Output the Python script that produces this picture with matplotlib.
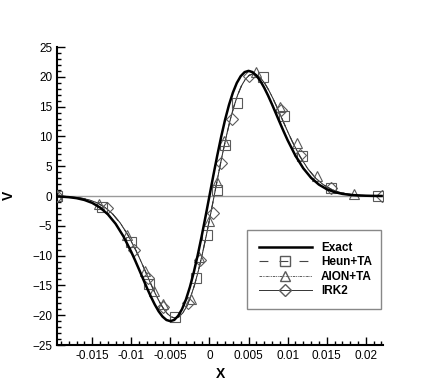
import matplotlib
matplotlib.use("Agg")
import matplotlib.pyplot as plt
from matplotlib.ticker import MultipleLocator, FuncFormatter
from matplotlib.lines import Line2D

plt.rcParams['font.family'] = ['Liberation Sans', 'DejaVu Sans']

# Exact solution
exact_x = [-0.0195, -0.019, -0.018, -0.017, -0.016, -0.015, -0.014, -0.013, -0.012, -0.011, -0.010,
           -0.0095, -0.009, -0.0085, -0.008, -0.0075, -0.007, -0.0065, -0.006, -0.0055, -0.005,
           -0.0045, -0.004, -0.0035, -0.003, -0.0025, -0.002, -0.0015, -0.001, -0.0005, 0.0,
           0.0005, 0.001, 0.0015, 0.002, 0.0025, 0.003, 0.0035, 0.004, 0.0045, 0.005,
           0.0055, 0.006, 0.0065, 0.007, 0.0075, 0.008, 0.0085, 0.009, 0.0095, 0.010,
           0.011, 0.012, 0.013, 0.014, 0.015, 0.016, 0.017, 0.018, 0.019, 0.020, 0.021, 0.022]
exact_v = [-0.07, -0.10, -0.19, -0.36, -0.66, -1.15, -1.92, -3.06, -4.66, -6.77, -9.37,
           -10.82, -12.33, -13.87, -15.40, -16.86, -18.19, -19.34, -20.23, -20.80, -21.00,
           -20.79, -20.11, -18.97, -17.35, -15.28, -12.79, -9.93, -6.79, -3.45, 0.0,
           3.45, 6.79, 9.93, 12.79, 15.28, 17.35, 18.97, 20.11, 20.79, 21.00,
           20.80, 20.23, 19.34, 18.19, 16.86, 15.40, 13.87, 12.33, 10.82, 9.37,
           6.77, 4.66, 3.06, 1.92, 1.15, 0.66, 0.36, 0.19, 0.10, 0.05, 0.02, 0.01]

# Numerical solution curve (shared by the three schemes)
num_x = [-0.0195, -0.0189, -0.0184, -0.0174, -0.0164, -0.0154, -0.0144, -0.0134, -0.0124, -0.0114, -0.0104, -0.0094,
         -0.0089, -0.0084, -0.0079, -0.0074, -0.0069, -0.0064, -0.0059, -0.0054, -0.0049, -0.0044,
         -0.0039, -0.0034, -0.0029, -0.0024, -0.0019, -0.0014, -0.0009, -0.0004, 0.0001, 0.0006,
         0.0011, 0.0016, 0.0021, 0.0026, 0.0031, 0.0036, 0.0041, 0.0046, 0.0051, 0.0056,
         0.0061, 0.0066, 0.0071, 0.0076, 0.0081, 0.0086, 0.0091, 0.0096, 0.0101, 0.0106,
         0.0116, 0.0126, 0.0136, 0.0146, 0.0156, 0.0166, 0.0176, 0.0186, 0.0196, 0.0206, 0.0216, 0.0226]
num_v = [-0.04, -0.07, -0.10, -0.19, -0.35, -0.64, -1.12, -1.87, -2.98, -4.54, -6.60, -9.14,
         -10.55, -12.02, -13.52, -15.02, -16.44, -17.74, -18.86, -19.72, -20.28, -20.48,
         -20.27, -19.61, -18.50, -16.92, -14.90, -12.47, -9.68, -6.62, -3.36, 0.0,
         3.36, 6.62, 9.68, 12.47, 14.90, 16.92, 18.50, 19.61, 20.27, 20.48,
         20.28, 19.72, 18.86, 17.74, 16.44, 15.02, 13.52, 12.02, 10.55, 9.14,
         6.60, 4.54, 2.98, 1.87, 1.12, 0.64, 0.35, 0.19, 0.10, 0.05, 0.02, 0.01]

# Marker positions
heun_x = [-0.0195, -0.0137, -0.0100, -0.0077, -0.0044, -0.0017, -0.0003, 0.0010, 0.0020, 0.0035,
          0.0068, 0.0095, 0.0119, 0.0156, 0.0215]
heun_v = [0.0, -1.9, -7.7, -14.8, -20.3, -13.8, -6.5, 1.0, 8.6, 15.6,
          20.0, 13.4, 6.7, 1.3, 0.0]
aion_x = [-0.0195, -0.0141, -0.0105, -0.0083, -0.0071, -0.0060, -0.0024, -0.0013, 0.0000, 0.0010,
          0.0019, 0.0059, 0.0090, 0.0112, 0.0137, 0.0185]
aion_v = [0.0, -1.3, -6.5, -12.6, -15.9, -18.1, -17.3, -10.2, -4.2, 2.3,
          9.2, 20.8, 14.9, 8.9, 3.4, 0.3]
irk_x = [-0.0195, -0.0131, -0.0096, -0.0078, -0.0060, -0.0028, -0.0012, 0.0004, 0.0015, 0.0029,
         0.0051, 0.0092, 0.0116, 0.0156, 0.0221]
irk_v = [0.0, -2.0, -9.0, -13.8, -18.6, -18.0, -10.8, -2.8, 5.5, 13.0,
         20.1, 14.5, 6.9, 1.3, 0.0]

fig = plt.figure(figsize=(4.36, 3.88), dpi=100)
ax = fig.add_axes([0.1307, 0.1108, 0.7477, 0.768])

ax.axhline(0, color='#9a9a9a', lw=1.0, zorder=1)

mcol = '#5a5a5a'
ax.plot(num_x, num_v, color='#444444', lw=0.8, ls=(0, (8, 10)), zorder=2)
ax.plot(num_x, num_v, color='#444444', lw=0.6, ls=(0, (3, 1, 1, 1, 1, 1)), zorder=2)
ax.plot(num_x, num_v, color='#333333', lw=0.7, zorder=2)
ax.plot(heun_x, heun_v, ls='none', marker='s', ms=6.5, mfc='none', mec=mcol, mew=0.8, zorder=3)
ax.plot(aion_x, aion_v, ls='none', marker='^', ms=7, mfc='none', mec=mcol, mew=0.8, zorder=3)
ax.plot(irk_x, irk_v, ls='none', marker='D', ms=6, mfc='none', mec=mcol, mew=0.8, zorder=3)
ax.plot(exact_x, exact_v, color='black', lw=1.8, zorder=4)

ax.set_xlim(-0.0195, 0.0222)
ax.set_ylim(-25, 25)
ax.xaxis.set_major_locator(MultipleLocator(0.005))
ax.xaxis.set_minor_locator(MultipleLocator(0.001))
ax.yaxis.set_major_locator(MultipleLocator(5))
ax.yaxis.set_minor_locator(MultipleLocator(1))

def fmt(v, pos):
    s = ('%.3f' % v).rstrip('0').rstrip('.')
    if s in ('-0', ''):
        s = '0'
    return s
ax.xaxis.set_major_formatter(FuncFormatter(fmt))

for s in ['top', 'right']:
    ax.spines[s].set_visible(False)
for s in ['left', 'bottom']:
    ax.spines[s].set_linewidth(1.5)
ax.tick_params(which='both', direction='in', top=False, right=False, labelsize=8.5, width=1.0)
ax.tick_params(which='major', length=6)
ax.tick_params(which='minor', length=3)

fig.text(0.505, 0.035, 'X', fontsize=10, fontweight='bold', ha='center', va='center')
fig.text(0.02, 0.497, 'V', fontsize=10, fontweight='bold', ha='center', va='center', rotation=90)

handles = [
    Line2D([], [], color='black', lw=1.8),
    Line2D([], [], color='#444444', lw=0.8, ls=(0, (8, 10)), marker='s', ms=6.5, mfc='none', mec=mcol),
    Line2D([], [], color='#444444', lw=0.6, ls=(0, (3, 1, 1, 1, 1, 1)), marker='^', ms=7, mfc='none', mec=mcol),
    Line2D([], [], color='#333333', lw=0.7, marker='D', ms=6, mfc='none', mec=mcol),
]
labels = ['Exact', 'Heun+TA', 'AION+TA', 'IRK2']
leg = ax.legend(handles, labels, loc='lower left', bbox_to_anchor=(0.583, 0.121, 0.411, 0.268),
                mode='expand', fancybox=False, edgecolor='#888888', framealpha=1,
                prop={'weight': 'bold', 'size': 8.5}, handlelength=4.5, numpoints=1,
                labelspacing=0.2, borderpad=1.0, handletextpad=0.75, borderaxespad=0)
leg.get_frame().set_linewidth(1.0)

fig.savefig('out.png', dpi=100)
